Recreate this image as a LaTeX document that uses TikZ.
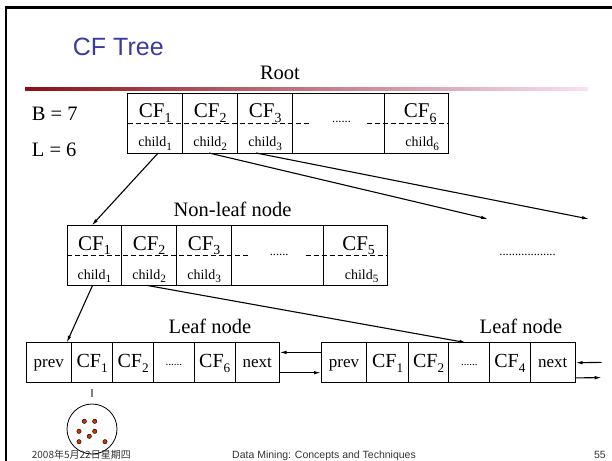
\documentclass[tikz,border=0pt]{standalone}
\usepackage{xcolor}
\usepackage{graphicx}
\usepackage{fontspec}
\usepackage{tikz}
\usetikzlibrary{arrows.meta}
\setmainfont{Liberation Serif}
\newfontfamily\slidesans{Liberation Sans}
\newfontfamily\cjkfont{Noto Sans CJK SC}
\definecolor{titleblue}{RGB}{58, 58, 165}
\definecolor{barred}{RGB}{139, 15, 20}
\definecolor{barpink}{RGB}{249, 225, 244}
\definecolor{dotred}{RGB}{204, 51, 0}
\definecolor{footgray}{RGB}{51, 51, 51}
\newcommand\cfsize{\fontsize{21bp}{25bp}\selectfont}
\newcommand\childsize{\fontsize{14bp}{17bp}\selectfont}
\newcommand\tagsize{\fontsize{20.5bp}{24bp}\selectfont}
\newcommand\leafsize{\fontsize{20bp}{24bp}\selectfont}
\newcommand\sidesize{\fontsize{17bp}{20bp}\selectfont}
\newcommand\gapsize{\fontsize{12.5bp}{15bp}\selectfont}
\newcommand\leafgapsize{\fontsize{11bp}{13bp}\selectfont}
\newcommand\lowsub[2][0.66]{\raisebox{-0.22em}{\scalebox{#1}{#2}}}
\tikzset{
  boxcol/.style={draw, line width=0.9bp, minimum height=60bp, inner sep=0pt, outer sep=0pt, anchor=north west},
  leafcell/.style={draw, line width=0.9bp, minimum height=40bp, inner sep=0pt, outer sep=0pt, anchor=north west, text height=14bp, text depth=4bp, font=\leafsize},
  leafgap/.style={leafcell, font=\leafgapsize, text depth=9bp},
  cftext/.style={anchor=base, inner sep=0pt, font=\cfsize, yshift=5.5bp},
  childtext/.style={anchor=base, inner sep=0pt, font=\childsize, yshift=-24bp},
  gapdots/.style={anchor=base, inner sep=0pt, font=\gapsize},
  tag/.style={anchor=base, inner sep=0pt, font=\tagsize},
  divider/.style={line width=0.8bp, dash pattern=on 5bp off 3bp},
  link/.style={-{Latex[length=7bp,width=3.5bp]}, line width=1.1bp},
  footer/.style={inner sep=0pt, text=footgray},
}

\begin{document}
\begin{tikzpicture}[x=1bp, y=-1bp]
\useasboundingbox (0,0) rectangle (612,461);
% slide frame, title and bar
\draw[line width=2.5bp] (6.2,461) -- (6.2,7.3) -- (612,7.3);
\node[anchor=base west, inner sep=0pt, font=\slidesans\fontsize{25bp}{30bp}\selectfont, text=titleblue] (title) at (72.7,56) {CF Tree};
\shade[left color=barred, right color=barpink] (25,87.5) rectangle (588,90.5);

% parameters
\node[anchor=base west, inner sep=0pt, font=\tagsize] (bval) at (31.7,120.7) {B = 7};
\node[anchor=base west, inner sep=0pt, font=\tagsize] (lval) at (31.7,156.7) {L = 6};

% root
\node[tag] (rootlbl) at (280,80) {Root};
\node[boxcol, minimum width=55.1bp] (rc1) at (127.6,93) {};
\node[boxcol, minimum width=55bp] (rc2) at (182.7,93) {};
\node[boxcol, minimum width=55bp] (rc3) at (237.7,93) {};
\node[boxcol, minimum width=91.8bp] (rc4) at (292.7,93) {};
\node[boxcol, minimum width=63.5bp] (rc5) at (384.5,93) {};
\draw[divider] (rc1.west) -- ([xshift=18bp]rc4.west);
\draw[divider] ([xshift=-18bp]rc4.east) -- (rc5.east);
\node[cftext] (rcf1) at (rc1.center) {CF\lowsub{1}};
\node[cftext] (rcf2) at (rc2.center) {CF\lowsub{2}};
\node[cftext] (rcf3) at (rc3.center) {CF\lowsub{3}};
\node[cftext, xshift=4bp] (rcf6) at (rc5.center) {CF\lowsub{6}};
\node[childtext] (rch1) at (rc1.center) {child\lowsub[0.8]{1}};
\node[childtext] (rch2) at (rc2.center) {child\lowsub[0.8]{2}};
\node[childtext] (rch3) at (rc3.center) {child\lowsub[0.8]{3}};
\node[childtext, xshift=6bp] (rch6) at (rc5.center) {child\lowsub[0.8]{6}};
\node[gapdots, xshift=3bp] (rgap) at (rc4.center) {......};

% non-leaf node
\node[tag] (nonleaflbl) at (232.6,216.7) {Non-leaf node};
\node[boxcol, minimum width=54.8bp] (nc1) at (67,225.5) {};
\node[boxcol, minimum width=54.6bp] (nc2) at (121.8,225.5) {};
\node[boxcol, minimum width=55.4bp] (nc3) at (176.4,225.5) {};
\node[boxcol, minimum width=91.8bp] (nc4) at (231.8,225.5) {};
\node[boxcol, minimum width=64bp] (nc5) at (323.6,225.5) {};
\draw[divider] (nc1.west) -- ([xshift=18bp]nc4.west);
\draw[divider] ([xshift=-18bp]nc4.east) -- (nc5.east);
\node[cftext] (ncf1) at (nc1.center) {CF\lowsub{1}};
\node[cftext] (ncf2) at (nc2.center) {CF\lowsub{2}};
\node[cftext] (ncf3) at (nc3.center) {CF\lowsub{3}};
\node[cftext, xshift=3bp] (ncf5) at (nc5.center) {CF\lowsub{5}};
\node[childtext] (nch1) at (nc1.center) {child\lowsub[0.8]{1}};
\node[childtext] (nch2) at (nc2.center) {child\lowsub[0.8]{2}};
\node[childtext] (nch3) at (nc3.center) {child\lowsub[0.8]{3}};
\node[childtext, xshift=6bp] (nch5) at (nc5.center) {child\lowsub[0.8]{5}};
\node[gapdots, xshift=1.5bp] (ngap) at (nc4.center) {......};
\node[gapdots] (moredots) at (527.5,256) {..................};

% leaf nodes
\node[tag] (leaflbl1) at (210,333.3) {Leaf node};
\node[tag] (leaflbl2) at (521,333.3) {Leaf node};
\node[leafcell, minimum width=45.4bp, font=\sidesize] (l1) at (26,342.7) {prev};
\node[leafcell, minimum width=41.4bp] (l2) at (71.4,342.7) {CF\lowsub{1}};
\node[leafcell, minimum width=40.6bp] (l3) at (112.8,342.7) {CF\lowsub{2}};
\node[leafgap, minimum width=41bp] (l4) at (153.4,342.7) {......};
\node[leafcell, minimum width=40.6bp] (l5) at (194.4,342.7) {CF\lowsub{6}};
\node[leafcell, minimum width=44.5bp, font=\sidesize] (l6) at (235,342.7) {next};
\node[leafcell, minimum width=45.9bp, font=\sidesize] (m1) at (321,342.7) {prev};
\node[leafcell, minimum width=41.4bp] (m2) at (366.9,342.7) {CF\lowsub{1}};
\node[leafcell, minimum width=40.6bp] (m3) at (408.3,342.7) {CF\lowsub{2}};
\node[leafgap, minimum width=40.9bp] (m4) at (448.9,342.7) {......};
\node[leafcell, minimum width=40.2bp] (m5) at (489.8,342.7) {CF\lowsub{4}};
\node[leafcell, minimum width=45.5bp, font=\sidesize] (m6) at (530,342.7) {next};

% pointers
\coordinate (far2) at (488,219);
\coordinate (far3) at (589,219);
\coordinate (inR) at (601.7,362.4);
\coordinate (outR) at (601.7,377.6);
\draw[link] ([xshift=3bp]rc1.south) -- ([xshift=-2.7bp]nc1.north);
\draw[link] ([xshift=-1.2bp]rc2.south) -- (far2);
\draw[link] ([xshift=-9.2bp]rc3.south) -- (far3);
\draw[link] ([xshift=-1.9bp]nc1.south) -- ([xshift=18bp]l1.north);
\draw[link] ([xshift=-1.6bp]nc2.south) -- ([xshift=-2.9bp]m4.north);
\draw[link] ([yshift=10.3bp]m1.west) -- ([yshift=10.3bp]l6.east);
\draw[link] ([yshift=-10bp]l6.east) -- ([yshift=-10bp]m1.west);
\draw[link] (inR) -- (m6.east);
\draw[link] ([yshift=-15.2bp]m6.east) -- (outR);

% cluster of points under CF1
\draw[line width=2bp, gray] ([yshift=-6bp]l2.south) -- ([yshift=-14.5bp]l2.south);
\node[circle, draw, line width=0.8bp, minimum size=50bp, inner sep=0pt] (cluster) at (92,429) {};
\filldraw[fill=dotred, draw=black, line width=0.4bp] (84.3,421.3) circle[radius=2.2bp];
\filldraw[fill=dotred, draw=black, line width=0.4bp] (94.7,421.3) circle[radius=2.2bp];
\filldraw[fill=dotred, draw=black, line width=0.4bp] (79,431.3) circle[radius=2.2bp];
\filldraw[fill=dotred, draw=black, line width=0.4bp] (94.7,431.3) circle[radius=2.2bp];
\filldraw[fill=dotred, draw=black, line width=0.4bp] (89.3,436.3) circle[radius=2.2bp];
\filldraw[fill=dotred, draw=black, line width=0.4bp] (79,441.7) circle[radius=2.2bp];
\filldraw[fill=dotred, draw=black, line width=0.4bp] (105,441.7) circle[radius=2.2bp];

% footer
\node[footer, anchor=base west, font=\cjkfont\fontsize{10bp}{12bp}\selectfont] (date) at (31.7,458) {2008年5月22日星期四};
\node[footer, anchor=base, font=\slidesans\fontsize{10.5bp}{12bp}\selectfont] (course) at (324,458) {Data Mining: Concepts and Techniques};
\node[footer, anchor=base east, font=\slidesans\fontsize{10.5bp}{12bp}\selectfont] (pageno) at (606,458) {55};
\end{tikzpicture}
\end{document}
